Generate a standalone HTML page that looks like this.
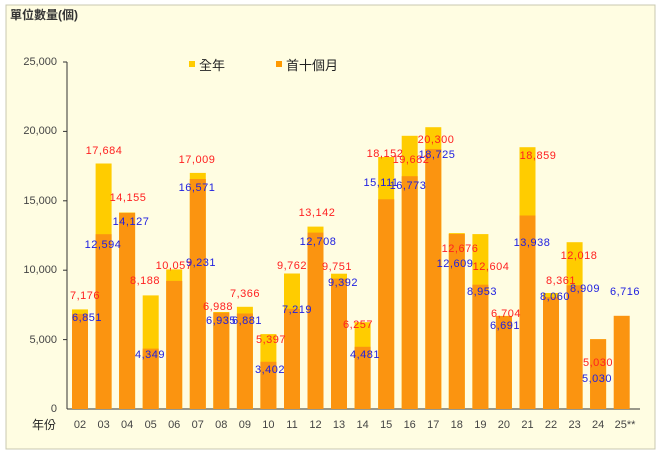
<!DOCTYPE html>
<html><head><meta charset="utf-8"><style>
body{margin:0;background:#fff}
svg{display:block;font-family:"Liberation Sans","Noto Sans CJK TC",sans-serif}
.r{fill:#ff2020;font-size:11px;text-anchor:middle;dominant-baseline:middle;letter-spacing:0.5px}
.b{fill:#2020e0;font-size:11px;text-anchor:middle;dominant-baseline:middle;letter-spacing:0.5px}
.x{fill:#444;font-size:11px;text-anchor:middle}
.y{fill:#444;font-size:11px;text-anchor:end;dominant-baseline:middle}
</style></head><body>
<svg width="660" height="457" viewBox="0 0 660 457">
<rect x="6" y="5" width="649" height="444" fill="#fffde2" stroke="#c8c8b0"/>
<text x="10" y="19" font-size="12" font-weight="bold" fill="#333">單位數量(個)</text>
<rect x="189" y="61" width="6" height="6" fill="#ffcc00"/><text x="199" y="70" font-size="13" fill="#222">全年</text>
<rect x="276" y="61" width="6" height="6" fill="#ff9900"/><text x="286" y="70" font-size="13" fill="#222">首十個月</text>
<g stroke="#333" stroke-width="1"><line x1="67" y1="62" x2="67" y2="409"/><line x1="67" y1="409" x2="640" y2="409"/>
<line x1="63" y1="62" x2="67" y2="62"/><line x1="63" y1="131.4" x2="67" y2="131.4"/><line x1="63" y1="200.8" x2="67" y2="200.8"/><line x1="63" y1="270.2" x2="67" y2="270.2"/><line x1="63" y1="339.6" x2="67" y2="339.6"/></g>
<text class="y" x="57" y="62">25,000</text><text class="y" x="57" y="131">20,000</text><text class="y" x="57" y="201">15,000</text><text class="y" x="57" y="270">10,000</text><text class="y" x="57" y="340">5,000</text><text class="y" x="57" y="409">0</text>
<g fill="#ffcc00">
<rect x="72" y="309.4" width="16" height="99.6"/><rect x="95.6" y="163.5" width="16" height="245.5"/><rect x="119.1" y="212.5" width="16" height="196.5"/><rect x="142.7" y="295.4" width="16" height="113.6"/><rect x="166.2" y="269.4" width="16" height="139.6"/><rect x="189.8" y="172.9" width="16" height="236.1"/><rect x="213.3" y="312" width="16" height="97"/><rect x="236.9" y="306.8" width="16" height="102.2"/><rect x="260.4" y="334.1" width="16" height="74.9"/><rect x="284" y="273.5" width="16" height="135.5"/><rect x="307.5" y="226.6" width="16" height="182.4"/><rect x="331" y="273.7" width="16" height="135.3"/><rect x="354.6" y="322.2" width="16" height="86.8"/><rect x="378.2" y="157" width="16" height="252"/><rect x="401.7" y="135.8" width="16" height="273.2"/><rect x="425.3" y="127.2" width="16" height="281.8"/><rect x="448.8" y="233.1" width="16" height="175.9"/><rect x="472.4" y="234.1" width="16" height="174.9"/><rect x="495.9" y="315.9" width="16" height="93.1"/><rect x="519.5" y="147.2" width="16" height="261.8"/><rect x="543" y="293" width="16" height="116"/><rect x="566.6" y="242.2" width="16" height="166.8"/><rect x="590.1" y="339.2" width="16" height="69.8"/>
</g>
<g fill="#fb9410">
<rect x="72" y="313.9" width="16" height="95.1"/><rect x="95.6" y="234.2" width="16" height="174.8"/><rect x="119.1" y="212.9" width="16" height="196.1"/><rect x="142.7" y="348.6" width="16" height="60.4"/><rect x="166.2" y="280.9" width="16" height="128.1"/><rect x="189.8" y="179" width="16" height="230"/><rect x="213.3" y="312.7" width="16" height="96.3"/><rect x="236.9" y="313.5" width="16" height="95.5"/><rect x="260.4" y="361.8" width="16" height="47.2"/><rect x="284" y="308.8" width="16" height="100.2"/><rect x="307.5" y="232.6" width="16" height="176.4"/><rect x="331" y="278.6" width="16" height="130.4"/><rect x="354.6" y="346.8" width="16" height="62.2"/><rect x="378.2" y="199.3" width="16" height="209.7"/><rect x="401.7" y="176.2" width="16" height="232.8"/><rect x="425.3" y="149.1" width="16" height="259.9"/><rect x="448.8" y="234" width="16" height="175"/><rect x="472.4" y="284.7" width="16" height="124.3"/><rect x="495.9" y="316.1" width="16" height="92.9"/><rect x="519.5" y="215.5" width="16" height="193.5"/><rect x="543" y="297.1" width="16" height="111.9"/><rect x="566.6" y="285.3" width="16" height="123.7"/><rect x="590.1" y="339.2" width="16" height="69.8"/><rect x="613.7" y="315.8" width="16" height="93.2"/>
</g>
<g>
<text class="r" x="85" y="296">7,176</text><text class="b" x="87" y="318">6,851</text>
<text class="r" x="104" y="151">17,684</text><text class="b" x="103" y="245">12,594</text>
<text class="r" x="128" y="198">14,155</text><text class="b" x="131" y="222">14,127</text>
<text class="r" x="145" y="281">8,188</text><text class="b" x="150" y="355">4,349</text>
<text class="r" x="174" y="266">10,057</text><text class="b" x="201" y="263">9,231</text>
<text class="r" x="197" y="160">17,009</text><text class="b" x="197" y="188">16,571</text>
<text class="r" x="218" y="307">6,988</text><text class="b" x="221" y="321">6,935</text>
<text class="r" x="245" y="294">7,366</text><text class="b" x="247" y="321">6,881</text>
<text class="r" x="271" y="340">5,397</text><text class="b" x="270" y="370">3,402</text>
<text class="r" x="292" y="266">9,762</text><text class="b" x="297" y="310">7,219</text>
<text class="r" x="317" y="213">13,142</text><text class="b" x="318" y="242">12,708</text>
<text class="r" x="337" y="267">9,751</text><text class="b" x="343" y="283">9,392</text>
<text class="r" x="358" y="325">6,257</text><text class="b" x="365" y="355">4,481</text>
<text class="r" x="385" y="154">18,152</text><text class="b" x="381" y="183">15,111</text>
<text class="r" x="411" y="160">19,682</text><text class="b" x="408" y="186">16,773</text>
<text class="r" x="436" y="140">20,300</text><text class="b" x="437" y="155">18,725</text>
<text class="r" x="460" y="249">12,676</text><text class="b" x="455" y="264">12,609</text>
<text class="r" x="491" y="267">12,604</text><text class="b" x="482" y="292">8,953</text>
<text class="r" x="506" y="314">6,704</text><text class="b" x="505" y="326">6,691</text>
<text class="r" x="538" y="156">18,859</text><text class="b" x="532" y="243">13,938</text>
<text class="r" x="561" y="281">8,361</text><text class="b" x="555" y="297">8,060</text>
<text class="r" x="579" y="256">12,018</text><text class="b" x="585" y="289">8,909</text>
<text class="r" x="598" y="363">5,030</text><text class="b" x="597" y="379">5,030</text>
<text class="b" x="625" y="292">6,716</text>
</g>
<g class="x">
<text class="x" x="80" y="428">02</text><text class="x" x="103.6" y="428">03</text><text class="x" x="127.1" y="428">04</text><text class="x" x="150.7" y="428">05</text><text class="x" x="174.2" y="428">06</text><text class="x" x="197.8" y="428">07</text><text class="x" x="221.3" y="428">08</text><text class="x" x="244.9" y="428">09</text><text class="x" x="268.4" y="428">10</text><text class="x" x="292" y="428">11</text><text class="x" x="315.5" y="428">12</text><text class="x" x="339" y="428">13</text><text class="x" x="362.6" y="428">14</text><text class="x" x="386.2" y="428">15</text><text class="x" x="409.7" y="428">16</text><text class="x" x="433.3" y="428">17</text><text class="x" x="456.8" y="428">18</text><text class="x" x="480.4" y="428">19</text><text class="x" x="503.9" y="428">20</text><text class="x" x="527.5" y="428">21</text><text class="x" x="551" y="428">22</text><text class="x" x="574.6" y="428">23</text><text class="x" x="598.1" y="428">24</text><text class="x" x="625" y="428">25**</text>
</g>
<text x="32" y="429" font-size="12" fill="#222">年份</text>
</svg>
</body></html>
